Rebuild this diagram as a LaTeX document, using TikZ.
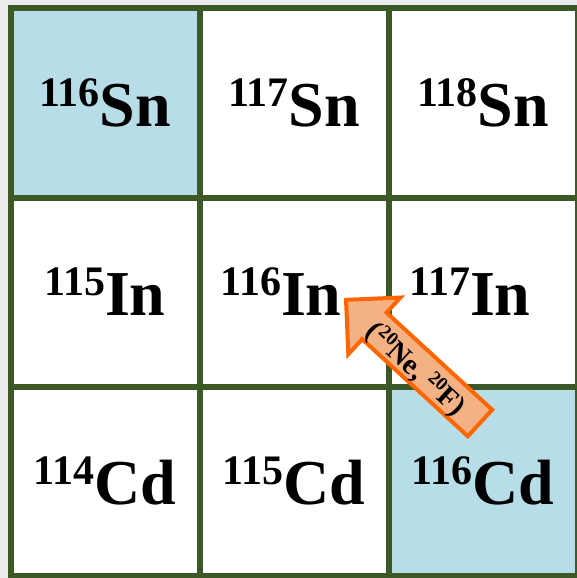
\documentclass[tikz,border=0pt]{standalone}
\usepackage{fontspec}
\setmainfont{Liberation Serif}
\usetikzlibrary{calc}
\definecolor{gridgreen}{RGB}{60,88,38}
\definecolor{cellblue}{RGB}{183,222,232}
\definecolor{beamfill}{RGB}{244,177,131}
\definecolor{beamline}{RGB}{255,102,0}
% mass number raised in front of the element
\newcommand{\iso}[2]{\raisebox{20pt}{\fontsize{42}{42}\selectfont #1}#2}
\newcommand{\isosmall}[2]{\raisebox{9pt}{\fontsize{19}{19}\selectfont #1}#2}

\begin{document}
\begin{tikzpicture}[x=1pt,y=-1pt,
    cell/.style={draw=gridgreen, line width=6pt, minimum size=189pt, inner sep=0pt, fill=white},
    isotope/.style={font=\fontsize{64}{64}\selectfont\bfseries, inner sep=0pt}]
  \useasboundingbox (0,0) rectangle (577,578);
  \clip (0,0) rectangle (577,578);
  \fill[gray!15] (0,0) rectangle (577,578);
  % Sn row
  \node[cell, fill=cellblue] (c11) at (105,103) {};
  \node[cell] (c12) at (294,103) {};
  \node[cell] (c13) at (483,103) {};
  % In row
  \node[cell] (c21) at (105,292) {};
  \node[cell] (c22) at (294,292) {};
  \node[cell] (c23) at (483,292) {};
  % Cd row
  \node[cell] (c31) at (105,481) {};
  \node[cell] (c32) at (294,481) {};
  \node[cell, fill=cellblue] (c33) at (483,481) {};
  % Labels
  \node[isotope] (sn116) at (c11) {\iso{116}{Sn}};
  \node[isotope] (sn117) at (c12) {\iso{117}{Sn}};
  \node[isotope] (sn118) at (c13) {\iso{118}{Sn}};
  \node[isotope] (in115) at (c21) {\iso{115}{In}};
  \node[isotope, xshift=-13pt] (in116) at (c22) {\iso{116}{In}};
  \node[isotope, xshift=-13pt] (in117) at (c23) {\iso{117}{In}};
  \node[isotope] (cd114) at (c31) {\iso{114}{Cd}};
  \node[isotope] (cd115) at (c32) {\iso{115}{Cd}};
  \node[isotope] (cd116) at (c33) {\iso{116}{Cd}};
  % Reaction arrow Cd116 -> In116
  \begin{scope}[shift={(480,423)}, rotate=137.4]
    \draw[beamline, fill=beamfill, line width=4pt, line join=miter]
      (0,-18) -- (143.5,-18) -- (143.5,-38.5) -- (182,0) -- (143.5,38.5) -- (143.5,18) -- (0,18) -- cycle;
  \end{scope}
  \node[rotate=-42.6, font=\fontsize{29}{29}\selectfont\bfseries, inner sep=0pt] (reac) at (415,370)
    {(\isosmall{20}{Ne}, \isosmall{20}{F})};
\end{tikzpicture}
\end{document}
